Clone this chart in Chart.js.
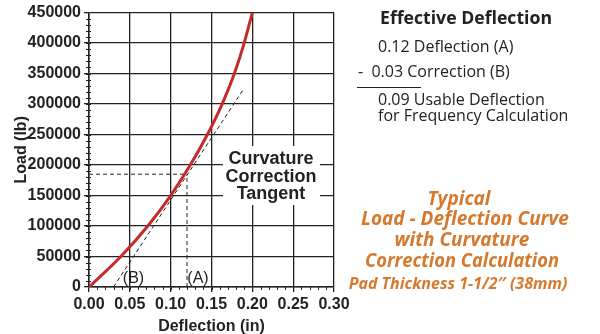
<!DOCTYPE html>
<html>
<head>
<meta charset="utf-8">
<script src="https://cdn.jsdelivr.net/npm/chart.js@4"></script>
<style>
  body { margin: 0; background: #fff; }
  canvas { display: block; }
</style>
</head>
<body>
<canvas id="chart" width="600" height="334"></canvas>
<script>
// Load - deflection curve
const curveX = [0, 0.039, 0.072, 0.100, 0.124, 0.145, 0.163, 0.178, 0.190, 0.200];
const curveY = [0, 50000, 100000, 150000, 200000, 250000, 300000, 350000, 400000, 450000];

// Curvature correction tangent
const tangentX = [0.03, 0.188];
const tangentY = [0, 322000];

// Point (A) on the curve
const pointA = { x: 0.12, y: 185000 };

// Tick labels
const xTicks = [0, 0.05, 0.10, 0.15, 0.20, 0.25, 0.30];
const yTicks = [0, 50000, 100000, 150000, 200000, 250000, 300000, 350000, 400000, 450000];

const ink = "#222";
const orange = "#d5792e";
const sans = "'Liberation Sans', Arial, sans-serif";
const round = "'Open Sans', sans-serif";

const toPoints = (xs, ys) => xs.map((x, i) => ({ x: x, y: ys[i] }));

// white box behind "Curvature Correction Tangent", minor ticks, texts
const extrasPlugin = {
    id: "extras",
    beforeDatasetsDraw(chart) {
        const ctx = chart.ctx;
        ctx.save();
        ctx.fillStyle = "#fff";
        ctx.fillRect(223, 146, 97, 59);
        ctx.restore();
    },
    afterDraw(chart) {
        const ctx = chart.ctx;
        const xs = chart.scales.x;
        const ys = chart.scales.y;
        const area = chart.chartArea;
        ctx.save();

        // minor ticks
        ctx.strokeStyle = ink;
        ctx.lineWidth = 1;
        ctx.beginPath();
        for (let i = 1; i < 30; i++) {
            const px = Math.round(xs.getPixelForValue(i / 100)) + 0.5;
            ctx.moveTo(px, area.bottom);
            ctx.lineTo(px, area.bottom + 3);
        }
        for (let i = 1; i < 45; i++) {
            const py = Math.round(ys.getPixelForValue(i * 10000)) + 0.5;
            ctx.moveTo(area.left - 3, py);
            ctx.lineTo(area.left + 2, py);
        }
        ctx.stroke();

        // (A) and (B) labels
        ctx.fillStyle = ink;
        ctx.font = "16px " + sans;
        ctx.textAlign = "center";
        ctx.textBaseline = "middle";
        ctx.fillText("(B)", xs.getPixelForValue(0.0545), ys.getPixelForValue(13000));
        ctx.fillText("(A)", xs.getPixelForValue(0.1335), ys.getPixelForValue(13000));

        // Curvature Correction Tangent
        ctx.font = "bold 18px " + sans;
        ctx.fillText("Curvature", 271, 159);
        ctx.fillText("Correction", 271, 177);
        ctx.fillText("Tangent", 271, 194);

        // Effective deflection panel
        ctx.textAlign = "left";
        ctx.font = "bold 18px " + round;
        ctx.fillText("Effective Deflection", 380, 19, 172);
        ctx.font = "16px " + round;
        ctx.fillText("0.12 Deflection (A)", 378, 47, 146);
        ctx.fillText("-  0.03 Correction (B)", 358, 72, 166);
        ctx.fillText("0.09 Usable Deflection", 378, 100, 174);
        ctx.fillText("for Frequency Calculation", 378, 116, 192);
        ctx.beginPath();
        ctx.moveTo(357, 87.5);
        ctx.lineTo(421, 87.5);
        ctx.stroke();

        // Title block
        ctx.fillStyle = orange;
        ctx.textAlign = "center";
        ctx.font = "italic bold 19px " + round;
        ctx.fillText("Typical", 459, 200);
        ctx.fillText("Load - Deflection Curve", 465, 220, 211);
        ctx.fillText("with Curvature", 462, 241, 150);
        ctx.fillText("Correction Calculation", 462, 262, 194);
        ctx.font = "italic bold 16px " + round;
        ctx.fillText("Pad Thickness 1-1/2\u2033 (38mm)", 458, 284, 228);
        ctx.restore();
    }
};

const tickFont = { family: sans, size: 16, weight: "bold" };
const dashed = { showLine: true, borderColor: ink, borderWidth: 1, borderDash: [4, 3], pointRadius: 0 };

new Chart(document.getElementById("chart"), {
    type: "scatter",
    data: {
        datasets: [
            {
                label: "Load",
                data: toPoints(curveX, curveY),
                showLine: true,
                borderColor: "#c62b2b",
                borderWidth: 3,
                pointRadius: 0,
                cubicInterpolationMode: "monotone"
            },
            Object.assign({ label: "Tangent", data: toPoints(tangentX, tangentY) }, dashed),
            Object.assign({ label: "A horizontal", data: [{ x: 0, y: pointA.y }, { x: pointA.x, y: pointA.y }] }, dashed),
            Object.assign({ label: "A vertical", data: [{ x: pointA.x, y: 0 }, { x: pointA.x, y: pointA.y }] }, dashed)
        ]
    },
    options: {
        responsive: false,
        animation: false,
        layout: { padding: { left: 0, top: 10, right: 266, bottom: 0 } },
        plugins: {
            legend: { display: false },
            tooltip: { enabled: false }
        },
        scales: {
            x: {
                type: "linear",
                min: 0,
                max: 0.30,
                afterFit: scale => { scale.height = 47; },
                afterBuildTicks: scale => { scale.ticks = xTicks.map(v => ({ value: v })); },
                ticks: {
                    color: ink,
                    font: tickFont,
                    padding: 3,
                    maxRotation: 0,
                    callback: v => v.toFixed(2)
                },
                grid: { color: ink, lineWidth: 1.3, tickLength: 5 },
                border: { color: ink, width: 1.5 },
                title: {
                    display: true,
                    text: "Deflection (in)",
                    color: ink,
                    font: { family: sans, size: 16, weight: "bold" },
                    padding: { top: 0, bottom: -2 }
                }
            },
            y: {
                type: "linear",
                min: 0,
                max: 450000,
                afterFit: scale => { scale.width = 89; },
                afterBuildTicks: scale => { scale.ticks = yTicks.map(v => ({ value: v })); },
                ticks: {
                    color: ink,
                    font: tickFont,
                    padding: 3,
                    callback: v => String(v)
                },
                grid: { color: ink, lineWidth: 1.3, tickLength: 5 },
                border: { color: ink, width: 1.5 },
                title: {
                    display: true,
                    text: "Load (lb)",
                    color: ink,
                    font: { family: sans, size: 16, weight: "bold" },
                    padding: { top: 12, bottom: 0 }
                }
            }
        }
    },
    plugins: [extrasPlugin]
});
</script>
</body>
</html>
